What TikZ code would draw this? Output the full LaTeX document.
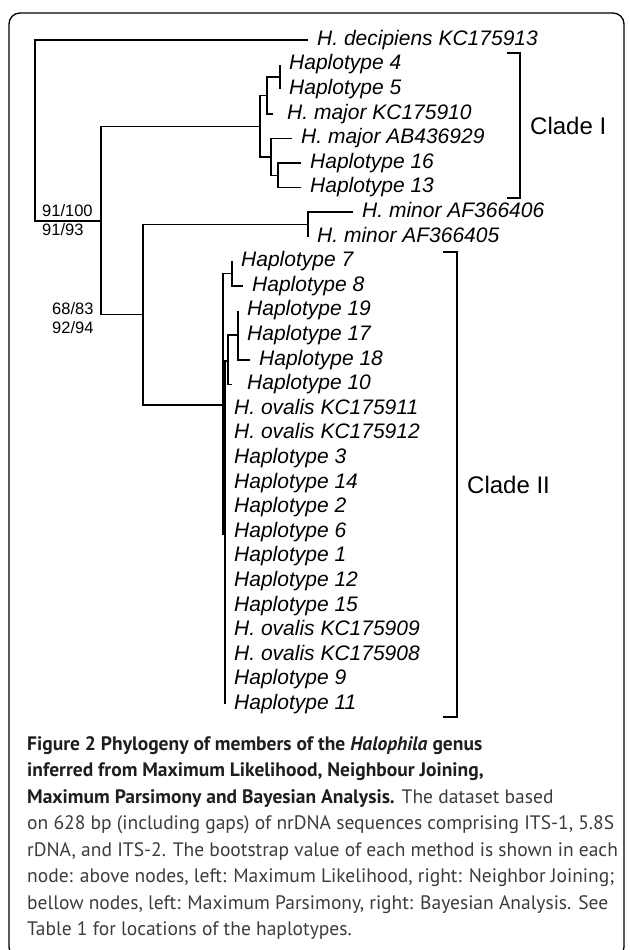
\documentclass[tikz,border=0pt]{standalone}
\usepackage{fontspec}
\setmainfont{Liberation Sans}
\newfontfamily\capfont{PT Sans}
\definecolor{captext}{HTML}{3C3C3C}
\definecolor{capbold}{HTML}{1E1E1E}

\begin{document}
\begin{tikzpicture}[x=1pt, y=-1pt,
    br/.style={black, line width=1.5pt},
    leaf/.style={anchor=west, inner xsep=9pt, inner ysep=0pt, text height=15pt, text depth=4.5pt,
        font=\fontsize{21}{21}\selectfont\itshape},
    boot/.style={anchor=west, inner sep=0pt, font=\fontsize{16.5}{16.5}\selectfont},
    clade/.style={anchor=west, inner sep=0pt, font=\fontsize{24}{24}\selectfont},
    capline/.style={anchor=base west, inner sep=0pt, text=captext,
        font=\capfont\fontsize{19.5}{19.5}\selectfont}]
    \useasboundingbox (0,0) rectangle (629,950);
    % frame
    \draw [line width=1.3pt, rounded corners=11pt] (9,13) rectangle (624,958);

    % inner nodes of the tree
    \coordinate (root) at (35,130);
    \coordinate (n1) at (101,221);
    \coordinate (cI) at (260,126.5);
    \coordinate (nA) at (267,95.4);
    \coordinate (n45) at (280,76.9);
    \coordinate (nB) at (271,156.9);
    \coordinate (n1613) at (278,175.3);
    \coordinate (n2) at (143,314.7);
    \coordinate (nMin) at (308,224.5);
    \coordinate (cII) at (223,405);
    \coordinate (n78) at (232,273.7);
    \coordinate (nP) at (225,534.6);
    \coordinate (nQ) at (228,361);
    \coordinate (n1917) at (238,335.2);

    % leaves
    \node [leaf] (dec) at (308,40.0) {H. decipiens KC175913};
    \node [leaf] (h4) at (280,64.6) {Haplotype 4};
    \node [leaf] (h5) at (280,89.2) {Haplotype 5};
    \node [leaf, inner xsep=14pt] (mKC) at (273,113.8) {H. major KC175910};
    \node [leaf] (mAB) at (292,138.4) {H. major AB436929};
    \node [leaf] (h16) at (301,163.0) {Haplotype 16};
    \node [leaf] (h13) at (301,187.6) {Haplotype 13};
    \node [leaf] (mi06) at (353,212.2) {H. minor AF366406};
    \node [leaf] (mi05) at (308,236.8) {H. minor AF366405};
    \node [leaf] (h7) at (232,261.4) {Haplotype 7};
    \node [leaf] (h8) at (243,286.0) {Haplotype 8};
    \node [leaf] (h19) at (238,310.6) {Haplotype 19};
    \node [leaf] (h17) at (238,335.2) {Haplotype 17};
    \node [leaf] (h18) at (250,359.8) {Haplotype 18};
    \node [leaf, inner xsep=15pt] (h10) at (232,384.4) {Haplotype 10};

    % branches
    \draw [br] (root) |- (dec.west);
    \draw [br] (root) |- (n1);
    \draw [br] (n1) |- (cI);
    \draw [br] (n1) |- (n2);
    \draw [br] (cI) |- (nA);
    \draw [br] (cI) |- (nB);
    \draw [br] (nA) |- (n45);
    \draw [br] (nA) |- (mKC.west);
    \draw [br] (n45) |- (h4.west);
    \draw [br] (n45) |- (h5.west);
    \draw [br] (nB) |- (mAB.west);
    \draw [br] (nB) |- (n1613);
    \draw [br] (n1613) |- (h16.west);
    \draw [br] (n1613) |- (h13.west);
    \draw [br] (n2) |- (nMin);
    \draw [br] (n2) |- (cII);
    \draw [br] (nMin) |- (mi06.west);
    \draw [br] (nMin) |- (mi05.west);
    \draw [br] (cII) |- (n78);
    \draw [br] (cII) |- (nP);
    \draw [br] (n78) |- (h7.west);
    \draw [br] (n78) |- (h8.west);
    \draw [br] (nP) |- (nQ);
    \draw [br] (nQ) |- (n1917);
    \draw [br] (nQ) |- (h10.west);
    \draw [br] (n1917) |- (h19.west);
    \draw [br] (n1917) |- (h17.west);
    \draw [br] (n1917) |- (h18.west);
    % unresolved part of clade II
    \foreach \nm/\txt [count=\k from 15] in {ov11/H. ovalis KC175911, ov12/H. ovalis KC175912,
        h3/Haplotype 3, h14/Haplotype 14, h2/Haplotype 2, h6/Haplotype 6, h1/Haplotype 1,
        h12/Haplotype 12, h15/Haplotype 15, ov09/H. ovalis KC175909, ov08/H. ovalis KC175908,
        h9/Haplotype 9, h11/Haplotype 11} {
        \node [leaf] (\nm) at (225,{40+24.6*\k}) {\txt};
        \draw [br] (nP) |- (\nm.west);
    }

    % bootstrap values
    \node [boot] (bs1a) at ([shift={(-59,-10)}]n1) {91/100};
    \node [boot] (bs1b) at ([shift={(-59,9)}]n1) {91/93};
    \node [boot] (bs2a) at ([shift={(-91,-5.7)}]n2) {68/83};
    \node [boot] (bs2b) at ([shift={(-91,13.3)}]n2) {92/94};

    % clade brackets
    \coordinate (bI1) at (507,53);
    \coordinate (bI2) at (507,198);
    \draw [br] (bI1) -- ++(13,0) |- (bI2);
    \node [clade] (cladeI) at (530,125.5) {Clade I};
    \coordinate (bII1) at (443,252);
    \coordinate (bII2) at (443,717);
    \draw [br] (bII1) -- ++(14,0) |- (bII2);
    \node [clade] (cladeII) at (467,484.5) {Clade II};

    % caption
    \node [capline] (cap1) at (27,750.0) {\bfseries\color{capbold}Figure 2 Phylogeny of members of the \textit{Halophila} genus};
    \node [capline] (cap2) at (27,776.5) {\bfseries\color{capbold}inferred from Maximum Likelihood, Neighbour Joining,};
    \node [capline] (cap3) at (27,803.0) {{\bfseries\color{capbold}Maximum Parsimony and Bayesian Analysis.} The dataset based};
    \node [capline] (cap4) at (27,829.5) {on 628 bp (including gaps) of nrDNA sequences comprising ITS-1, 5.8S};
    \node [capline] (cap5) at (27,856.0) {rDNA, and ITS-2. The bootstrap value of each method is shown in each};
    \node [capline] (cap6) at (27,882.5) {node: above nodes, left: Maximum Likelihood, right: Neighbor Joining;};
    \node [capline] (cap7) at (27,909.0) {bellow nodes, left: Maximum Parsimony, right: Bayesian Analysis. See};
    \node [capline] (cap8) at (27,935.5) {Table 1 for locations of the haplotypes.};
\end{tikzpicture}
\end{document}
